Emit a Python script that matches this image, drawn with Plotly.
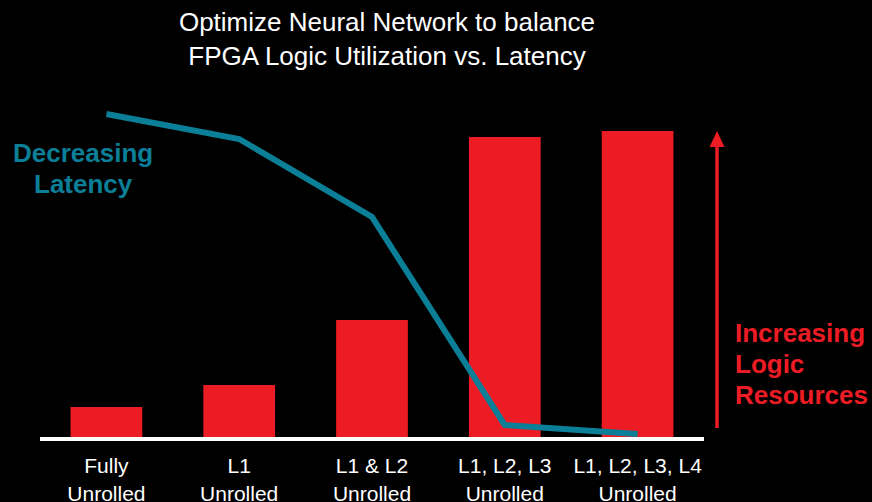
import plotly.graph_objects as go

categories = ["Fully<br>Unrolled", "L1<br>Unrolled", "L1 & L2<br>Unrolled",
              "L1, L2, L3<br>Unrolled", "L1, L2, L3, L4<br>Unrolled"]
logic_resources = [30, 52, 117, 300, 306]
latency = [323, 298, 220, 12, 3]

RED = "#ED1C24"
TEAL = "#0B7F98"
FONT = "Liberation Sans, Arial, sans-serif"

x_idx = list(range(len(categories)))

fig = go.Figure()
fig.add_trace(go.Bar(x=x_idx, y=logic_resources, marker=dict(color=RED, line=dict(width=0)),
                     width=0.54, showlegend=False, hoverinfo="skip"))
fig.add_trace(go.Scatter(x=x_idx, y=latency, mode="lines",
                         line=dict(color=TEAL, width=6), showlegend=False, hoverinfo="skip"))

fig.update_layout(
    width=872, height=502,
    paper_bgcolor="black", plot_bgcolor="black",
    margin=dict(l=40, r=168, t=97, b=65, autoexpand=False),
    title=dict(text="Optimize Neural Network to balance<br>FPGA Logic Utilization vs. Latency",
               font=dict(family=FONT, size=26, color="white"),
               x=387 / 872, xref="container", xanchor="center",
               y=1 - 31 / 502, yref="container", yanchor="top", automargin=False),
    xaxis=dict(range=[-0.5, 4.5], tickmode="array", tickvals=x_idx, ticktext=categories,
               showgrid=False, zeroline=False, showline=True, linecolor="white", linewidth=4,
               ticks="", tickfont=dict(family=FONT, size=21, color="white"), ticklabelstandoff=7,
               automargin=False, fixedrange=True),
    yaxis=dict(range=[0, 340], visible=False, showgrid=False, zeroline=False,
               automargin=False, fixedrange=True),
    showlegend=False,
)

ann_font_t = dict(family=FONT, size=26, color=TEAL)
ann_font_r = dict(family=FONT, size=26, color=RED)
for txt, ypx in [("<b>Decreasing</b>", 153), ("<b>Latency</b>", 184)]:
    fig.add_annotation(text=txt, xref="paper", yref="paper",
                       x=(83 - 40) / 664, y=(437 - ypx) / 340,
                       xanchor="center", yanchor="middle", showarrow=False, font=ann_font_t)
for txt, ypx in [("<b>Increasing</b>", 333), ("<b>Logic</b>", 364), ("<b>Resources</b>", 395)]:
    fig.add_annotation(text=txt, xref="paper", yref="paper",
                       x=(733 - 40) / 664, y=(437 - ypx) / 340,
                       xanchor="left", yanchor="middle", showarrow=False, font=ann_font_r)

# arrow (decoration)
ax_px = 717
px = (ax_px - 40) / 664
fig.add_shape(type="line", xref="paper", yref="paper",
              x0=px, x1=px, y0=(437 - 428) / 340, y1=(437 - 145) / 340,
              line=dict(color=RED, width=3.5))
hw = 7.5 / 664
fig.add_shape(type="path", xref="paper", yref="paper",
              path=f"M {px - hw},{(437 - 147) / 340} L {px + hw},{(437 - 147) / 340} L {px},{(437 - 131) / 340} Z",
              fillcolor=RED, line=dict(width=0))

fig.write_html("out.html", config={"displayModeBar": False, "staticPlot": True},
               post_script="document.body.style.margin='0';document.body.style.overflow='hidden';"
                           "document.documentElement.style.background='black';window.scrollTo(0,0);")
